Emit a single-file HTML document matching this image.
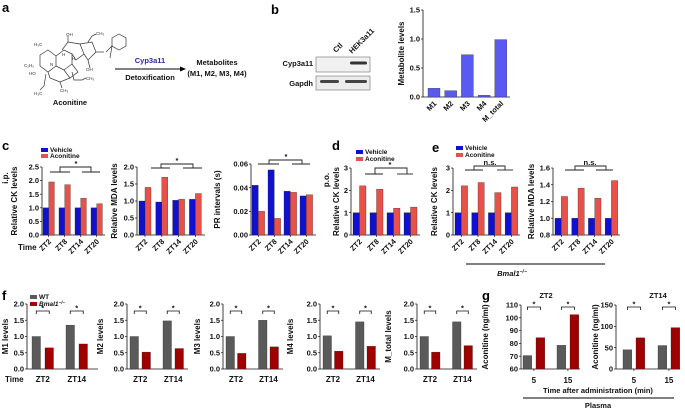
<!DOCTYPE html>
<html><head><meta charset="utf-8">
<style>
html,body{margin:0;padding:0;background:#fff;}
svg{display:block;font-family:"Liberation Sans",Arial,sans-serif;}
.t{font-size:7.5px;font-weight:bold;fill:#111;}
.yl{font-size:8px;font-weight:bold;fill:#111;}
.pl{font-size:13px;font-weight:bold;fill:#000;}
.lg{font-size:6.5px;font-weight:bold;fill:#111;}
</style></head>
<body>
<svg id="fig" width="685" height="409" viewBox="0 0 685 409" xmlns="http://www.w3.org/2000/svg">
  <text class="pl" x="2" y="12">a</text>
  <text class="pl" x="271" y="14">b</text>
  <text class="pl" x="2" y="150">c</text>
  <text class="pl" x="332" y="150">d</text>
  <text class="pl" x="432" y="152">e</text>
  <text class="pl" x="2" y="300">f</text>
  <text class="pl" x="482" y="300">g</text>

  <g stroke="#333" stroke-width="0.7" fill="none">
    <polyline points="40,55 48,50 56,56 56,66 48,72 40,66 40,55"/>
    <polyline points="56,56 64,50 72,54 72,64 64,70 56,66"/>
    <polyline points="62,50 68,42 80,44 84,54 76,60 72,54"/>
    <polyline points="80,44 92,42 96,52 88,60 84,54"/>
    <polyline points="64,70 70,78 60,82 50,78 48,72"/>
    <polyline points="72,64 78,72 70,78"/>
    <polyline points="88,60 90,68"/>
    <polyline points="96,52 104,52"/>
    <polyline points="106,52 112,46 110,58"/>
    <polygon points="112,38 119,34 126,38 126,46 119,50 112,46"/>
    <polyline points="72,72 74,80 82,80 86,78"/>
    <polyline points="46,74 44,86 40,90"/>
    <polyline points="60,82 62,88"/>
    <polyline points="68,42 68,36"/>
    <polyline points="88,42 92,36 96,34"/>
  </g>
  <g style="font-size:4.5px;fill:#333">
    <text x="34" y="46">H₃C</text><text x="66" y="36">OH</text><text x="96" y="35">CH₃</text>
    <text x="24" y="67">C₂H₅</text><text x="29" y="75">HO</text><text x="86" y="71">OH</text>
    <text x="34" y="95">H₃C</text><text x="60" y="92">CH₃</text><text x="86" y="80">CH₃</text>
    <text x="62" y="56">H</text><text x="72" y="60">H</text><text x="50" y="66">N</text>
  </g>
  <text x="70" y="105" text-anchor="middle" class="t">Aconitine</text>
  <line x1="115" y1="69" x2="181" y2="69" stroke="#000" stroke-width="1"/>
  <polygon points="186,69 180,66.5 180,71.5" fill="#000"/>
  <text x="150" y="63" text-anchor="middle" class="t" style="fill:#2a2aa0">Cyp3a11</text>
  <text x="150" y="80" text-anchor="middle" class="t">Detoxification</text>
  <text x="217" y="65" text-anchor="middle" class="t">Metabolites</text>
  <text x="217" y="76" text-anchor="middle" class="t">(M1, M2, M3, M4)</text>

  <g>
    <rect x="316" y="57" width="54" height="15" fill="#f1f1f1" stroke="#555" stroke-width="0.5"/>
    <rect x="316" y="76" width="54" height="14" fill="#ececec" stroke="#555" stroke-width="0.5"/>
    <rect x="350" y="61.5" width="17" height="3" rx="1.5" fill="#333"/>
    <rect x="320" y="80" width="19" height="3" rx="1.5" fill="#444"/>
    <rect x="345" y="80" width="22" height="3" rx="1.5" fill="#444"/>
  </g>
  <text x="313" y="66" text-anchor="end" class="t">Cyp3a11</text>
  <text x="313" y="86" text-anchor="end" class="t">Gapdh</text>
  <text transform="translate(336,53) rotate(-45)" class="t">Ctl</text>
  <text transform="translate(352,54) rotate(-45)" class="t">HEK3a11</text>

  <g id="charts"></g>

  <g>
    <rect x="41" y="148" width="7" height="4" fill="#1010d0"/><text x="50" y="152" class="lg">Vehicle</text>
    <rect x="41" y="154" width="7" height="4" fill="#e8504a"/><text x="50" y="158" class="lg">Aconitine</text>
  </g>
  <g>
    <rect x="356" y="150" width="7" height="4" fill="#1010d0"/><text x="365" y="154" class="lg">Vehicle</text>
    <rect x="356" y="157" width="7" height="4" fill="#e8504a"/><text x="365" y="161" class="lg">Aconitine</text>
  </g>
  <g>
    <rect x="456" y="146" width="7" height="4" fill="#1010d0"/><text x="465" y="150" class="lg">Vehicle</text>
    <rect x="456" y="153" width="7" height="4" fill="#e8504a"/><text x="465" y="157" class="lg">Aconitine</text>
  </g>
  <g>
    <rect x="30" y="295" width="7" height="4" fill="#5a5a5a"/><text x="39" y="299" class="lg">WT</text>
    <rect x="30" y="302" width="7" height="4" fill="#a00000"/><text x="39" y="306" class="lg" font-style="italic">Bmal1<tspan dy="-2" font-size="4.5">−/−</tspan></text>
  </g>

  <text x="18" y="250" class="t" style="font-size:8px">Time</text>
  <text x="5" y="382" class="t" style="font-size:8px">Time</text>
  <text transform="translate(8,178) rotate(-90)" text-anchor="middle" class="yl">i.p.</text>
  <text transform="translate(329,180) rotate(-90)" text-anchor="middle" class="yl">p.o.</text>
  <line x1="466" y1="264" x2="605" y2="264" stroke="#000" stroke-width="1"/>
  <text x="512" y="276" text-anchor="middle" class="t" font-style="italic">Bmal1<tspan dy="-3" font-size="5">−/−</tspan></text>
  <text x="546" y="298" text-anchor="middle" class="t">ZT2</text>
  <text x="658" y="298" text-anchor="middle" class="t">ZT14</text>
  <text x="598" y="393" text-anchor="middle" class="t">Time after administration (min)</text>
  <line x1="523" y1="398" x2="674" y2="398" stroke="#000" stroke-width="1"/>
  <text x="598" y="408" text-anchor="middle" class="t">Plasma</text>
</svg>
<script>
const NS = "http://www.w3.org/2000/svg";
const BLUE = "#1010d0", RED = "#e8504a", GRAY = "#5a5a5a", DRED = "#a00000", BV = "#5a5af2";

const bCats = ["M1","M2","M3","M4","M_total"];
const bValues = [0.15, 0.11, 0.73, 0.03, 0.99];
const bTicks = [0, 0.5, 1.0, 1.5];

const cCats = ["ZT2","ZT8","ZT14","ZT20"];
const c1Vehicle = [1.0, 1.0, 1.0, 1.0];
const c1Aconitine = [1.95, 1.85, 1.35, 1.15];
const c1Ticks = [0, 0.5, 1.0, 1.5, 2.0, 2.5];
const c2Vehicle = [1.0, 0.97, 1.02, 1.05];
const c2Aconitine = [1.4, 1.7, 1.05, 1.22];
const c2Ticks = [0, 0.5, 1.0, 1.5, 2.0];
const c3Vehicle = [0.042, 0.055, 0.037, 0.033];
const c3Aconitine = [0.020, 0.014, 0.036, 0.034];
const c3Ticks = [0, 0.02, 0.04, 0.06];
const dVehicle = [1.0, 1.0, 1.0, 1.0];
const dAconitine = [2.2, 2.05, 1.2, 1.25];
const dTicks = [0, 1, 2, 3];
const e1Vehicle = [1.0, 1.0, 1.0, 1.0];
const e1Aconitine = [2.2, 2.35, 1.9, 2.15];
const e1Ticks = [0, 1, 2, 3];
const e2Vehicle = [1.0, 1.0, 1.0, 1.0];
const e2Aconitine = [1.26, 1.36, 1.24, 1.45];
const e2Ticks = [0.8, 1.0, 1.2, 1.4, 1.6];

const fCats = ["ZT2","ZT14"];
const f1WT = [1.0, 1.35], f1KO = [0.65, 0.77];
const f2WT = [1.0, 1.48], f2KO = [0.52, 0.63];
const f3WT = [1.0, 1.5], f3KO = [0.48, 0.68];
const f4WT = [1.02, 1.45], f4KO = [0.55, 0.70];
const f5WT = [1.0, 1.45], f5KO = [0.52, 0.72];
const fTicks = [0, 0.5, 1.0, 1.5, 2.0];

const gCats = ["5","15"];
const g1WT = [70.5, 78.5], g1KO = [84.5, 102.5];
const g1Ticks = [60, 70, 80, 90, 100, 110];
const g2WT = [45, 55], g2KO = [73, 97];
const g2Ticks = [0, 50, 100, 150];

const root = document.getElementById("charts");
function mk(tag, attrs, parent){
  const e = document.createElementNS(NS, tag);
  for (const k in attrs) e.setAttribute(k, attrs[k]);
  (parent || root).appendChild(e);
  return e;
}

function chart(o){
  const g = mk("g", {});
  
  
  const ys = v => o.bot - (v - o.min) / (o.max - o.min) * (o.bot - o.top);
  const ya = mk("line", {x1:o.ax, y1:ys(o.max), x2:o.ax, y2:o.bot, stroke:"#111", "stroke-width":0.8}, g);
  
  
  const xa = mk("line", {x1:o.ax, y1:o.bot, x2:o.end, y2:o.bot, stroke:"#111", "stroke-width":0.8}, g);
  
  
  o.ticks.forEach(t => {
    mk("line", {x1:o.ax-2, y1:ys(t), x2:o.ax, y2:ys(t), stroke:"#111", "stroke-width":0.7}, g);
    const tl = mk("text", {x:o.ax-3, y:ys(t)+2.6, "text-anchor":"end", class:"t"}, g);
    
    
    tl.textContent = t.toFixed(o.dec);
  });
  o.cats.forEach((c, i) => {
    o.series.forEach((s, j) => {
      const x = o.ax + o.start + i * o.pitch + j * o.off;
      const v = s.vals[i];
      const r = mk("rect", {x:x, y:ys(v), width:o.bw, height:o.bot - ys(v), fill:s.color, stroke:"#222", "stroke-width":0.3}, g);
      
      
    });
    const cx = o.ax + o.start + i * o.pitch + (o.off * (o.series.length - 1) + o.bw) / 2;
    if (o.xtick) mk("line", {x1:cx, y1:o.bot, x2:cx, y2:o.bot+2, stroke:"#111", "stroke-width":0.7}, g);
    let lab;
    if (o.rot) {
      lab = mk("text", {transform:"translate(" + (cx + 3) + "," + (o.bot + 7) + ") rotate(-45)", "text-anchor":"end", class:"t"}, g);
    } else {
      lab = mk("text", {x:cx, y:o.labY, "text-anchor":"middle", class:"t", style:"font-size:8px"}, g);
    }
    
    
    lab.textContent = c;
    if (o.star) {
      const xa1 = o.ax + o.start + i * o.pitch + o.bw / 2;
      const xa2 = xa1 + o.off;
      const by = o.starY;
      const br = mk("polyline", {points: xa1 + "," + (by+3) + " " + xa1 + "," + by + " " + xa2 + "," + by + " " + xa2 + "," + (by+3), fill:"none", stroke:"#111", "stroke-width":0.8}, g);
      
      
      const st = mk("text", {x:(xa1 + xa2) / 2, y:by - 0.5, "text-anchor":"middle", class:"t"}, g);
      
      
      st.textContent = "*";
    }
  });
  const yl = mk("text", {transform:"translate(" + o.ylx + "," + ((o.top + o.bot) / 2) + ") rotate(-90)", "text-anchor":"middle", class:"yl"}, g);
  
  
  yl.textContent = o.ylabel;
}

function bracket(name, top, x1, x2, legY, l1, l2, r1, r2, label, lx){
  const g = mk("g", {fill:"none", stroke:"#222", "stroke-width":0.9});
  
  
  mk("polyline", {points: x1+","+legY+" "+x1+","+top+" "+x2+","+top+" "+x2+","+legY}, g);
  mk("line", {x1:l1, y1:legY, x2:l2, y2:legY}, g);
  mk("line", {x1:r1, y1:legY, x2:r2, y2:legY}, g);
  const t = mk("text", {x:lx, y:top - 1, "text-anchor":"middle", class:"t", stroke:"none"});
  
  
  t.textContent = label;
}

chart({name:"chart-b-metabolites", ax:423, end:510, top:10, bot:97, min:0, max:1.5, ticks:bTicks, dec:1,
  cats:bCats, series:[{vals:bValues, color:BV, key:"metabolite"}], start:5, pitch:16.7, off:0, bw:12,
  ylabel:"Metabolite levels", ylx:404, rot:true, xtick:false});
chart({name:"chart-c-ck", ax:42, end:105, top:167, bot:235, min:0, max:2.5, ticks:c1Ticks, dec:1,
  cats:cCats, series:[{vals:c1Vehicle,color:BLUE,key:"vehicle"},{vals:c1Aconitine,color:RED,key:"aconitine"}],
  start:1, pitch:16, off:5.7, bw:5.7, ylabel:"Relative CK levels", ylx:17, rot:true, xtick:true});
chart({name:"chart-c-mda", ax:137, end:205, top:167, bot:235, min:0, max:2.0, ticks:c2Ticks, dec:1,
  cats:cCats, series:[{vals:c2Vehicle,color:BLUE,key:"vehicle"},{vals:c2Aconitine,color:RED,key:"aconitine"}],
  start:2, pitch:16.8, off:6, bw:6, ylabel:"Relative MDA levels", ylx:117, rot:true, xtick:true});
chart({name:"chart-c-pr", ax:251, end:316, top:164, bot:235, min:0, max:0.06, ticks:c3Ticks, dec:2,
  cats:cCats, series:[{vals:c3Vehicle,color:BLUE,key:"vehicle"},{vals:c3Aconitine,color:RED,key:"aconitine"}],
  start:1, pitch:16, off:6.3, bw:6.3, ylabel:"PR intervals (s)", ylx:220, rot:true, xtick:true});
chart({name:"chart-d-ck", ax:351, end:420, top:168, bot:235, min:0, max:3, ticks:dTicks, dec:0,
  cats:cCats, series:[{vals:dVehicle,color:BLUE,key:"vehicle"},{vals:dAconitine,color:RED,key:"aconitine"}],
  start:2, pitch:17, off:6.5, bw:6.5, ylabel:"Relative CK levels", ylx:339, rot:true, xtick:true});
chart({name:"chart-e-ck", ax:453, end:520, top:168, bot:235, min:0, max:3, ticks:e1Ticks, dec:0,
  cats:cCats, series:[{vals:e1Vehicle,color:BLUE,key:"vehicle"},{vals:e1Aconitine,color:RED,key:"aconitine"}],
  start:2, pitch:16.7, off:6.3, bw:6.3, ylabel:"Relative CK levels", ylx:437, rot:true, xtick:true});
chart({name:"chart-e-mda", ax:553, end:620, top:168, bot:235, min:0.8, max:1.6, ticks:e2Ticks, dec:1,
  cats:cCats, series:[{vals:e2Vehicle,color:BLUE,key:"vehicle"},{vals:e2Aconitine,color:RED,key:"aconitine"}],
  start:2, pitch:16.7, off:6.3, bw:6.3, ylabel:"Relative MDA levels", ylx:534, rot:true, xtick:true});

bracket("bracket-c-ck", 167, 60, 91, 172, 50, 70, 82, 100, "*", 76);
bracket("bracket-c-mda", 164, 161, 193, 168, 151, 170, 183, 202, "*", 177);
bracket("bracket-c-pr", 160, 269, 302, 164, 258, 279, 292, 310, "*", 286);
bracket("bracket-d-ck", 168, 375, 407, 174, 365, 383, 397, 413, "*", 390);
bracket("bracket-e-ck", 166, 474, 505, 170, 465, 483, 497, 513, "n.s.", 490);
bracket("bracket-e-mda", 166, 575, 606, 170, 565, 584, 596, 613, "n.s.", 590);

const fSets = [
  {n:"M1", wt:f1WT, ko:f1KO, ax:27, end:98, start:5, pitch:34, off:13, ylx:8},
  {n:"M2", wt:f2WT, ko:f2KO, ax:127, end:188, start:3, pitch:33, off:12, ylx:103},
  {n:"M3", wt:f3WT, ko:f3KO, ax:223, end:283, start:3, pitch:32.5, off:11.5, ylx:200},
  {n:"M4", wt:f4WT, ko:f4KO, ax:320, end:380, start:3, pitch:32.5, off:11.5, ylx:293},
  {n:"M_total", wt:f5WT, ko:f5KO, ax:417, end:477, start:3, pitch:32.5, off:11.5, ylx:391}
];
fSets.forEach(s => {
  chart({name:"chart-f-" + s.n.toLowerCase(), ax:s.ax, end:s.end, top:304, bot:369, min:0, max:2.0, ticks:fTicks, dec:1,
    cats:fCats, series:[{vals:s.wt,color:GRAY,key:"wt"},{vals:s.ko,color:DRED,key:"bmal1-ko"}],
    start:s.start, pitch:s.pitch, off:s.off, bw:8.5, ylabel:s.n + " levels", ylx:s.ylx, rot:false, labY:382, xtick:false,
    star:true, starY:311});
});
chart({name:"chart-g-zt2", ax:521, end:580, top:305, bot:369, min:60, max:110, ticks:g1Ticks, dec:0,
  cats:gCats, series:[{vals:g1WT,color:GRAY,key:"wt"},{vals:g1KO,color:DRED,key:"bmal1-ko"}],
  start:2, pitch:34, off:13, bw:8.8, ylabel:"Aconitine (ng/ml)", ylx:488, rot:false, labY:383, xtick:true, star:true, starY:307});
chart({name:"chart-g-zt14", ax:616, end:680, top:305, bot:369, min:0, max:150, ticks:g2Ticks, dec:0,
  cats:gCats, series:[{vals:g2WT,color:GRAY,key:"wt"},{vals:g2KO,color:DRED,key:"bmal1-ko"}],
  start:7, pitch:35, off:13, bw:8.8, ylabel:"Aconitine (ng/ml)", ylx:598, rot:false, labY:383, xtick:true, star:true, starY:307});
</script>
</body></html>
